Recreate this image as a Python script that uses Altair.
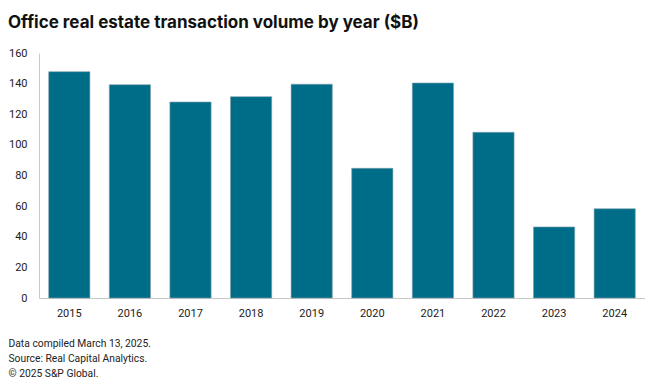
import altair as alt
import pandas as pd

years = ["2015", "2016", "2017", "2018", "2019", "2020", "2021", "2022", "2023", "2024"]
volume = [147.8, 139.3, 128.0, 131.5, 139.6, 84.7, 140.4, 108.2, 46.4, 58.3]
y_ticks = [0, 20, 40, 60, 80, 100, 120, 140, 160]
title_text = "Office real estate transaction volume by year ($B)"
footer = ["Data compiled March 13, 2025.", "Source: Real Capital Analytics.", "\u00a9 2025 S&P Global."]

df = pd.DataFrame({"year": years, "volume": volume})

FONT = "Inter"
SMALL = "Roboto"

chart = (
    alt.Chart(df)
    .mark_bar(color="#006d88", stroke="#7d9fab", strokeWidth=0.6)
    .encode(
        x=alt.X(
            "year:N",
            sort=years,
            scale=alt.Scale(paddingInner=0.32, paddingOuter=0.16),
            axis=alt.Axis(
                title=footer,
                titleAnchor="start",
                titleAlign="left",
                titleBaseline="top",
                titleX=-31,
                titleY=40,
                titleFontSize=10.3,
                titleFontWeight="normal",
                titleColor="#222222",
                titleLineHeight=15,
                titleFont=SMALL,
                labelAngle=0,
                labelPadding=9,
                labelFontSize=11,
                labelColor="#222222",
                labelFont=SMALL,
                ticks=False,
                domainColor="#c8c8c8",
                grid=False,
            ),
        ),
        y=alt.Y(
            "volume:Q",
            scale=alt.Scale(domain=[0, 160], nice=False),
            axis=alt.Axis(
                title=None,
                values=y_ticks,
                labelPadding=12,
                labelFontSize=11,
                labelColor="#222222",
                labelFont=SMALL,
                ticks=False,
                domainColor="#c8c8c8",
                grid=False,
            ),
        ),
    )
    .properties(
        width=606,
        height=245,
        padding={"left": 0, "top": 6, "right": 0, "bottom": 0},
        title=alt.TitleParams(
            text=title_text,
            anchor="start",
            font=FONT,
            fontSize=17,
            fontWeight="bold",
            color="#111111",
            offset=15,
        ),
    )
    .configure_view(stroke=None)
)

chart.save("out.html", embed_options={"renderer": "svg", "actions": False})
